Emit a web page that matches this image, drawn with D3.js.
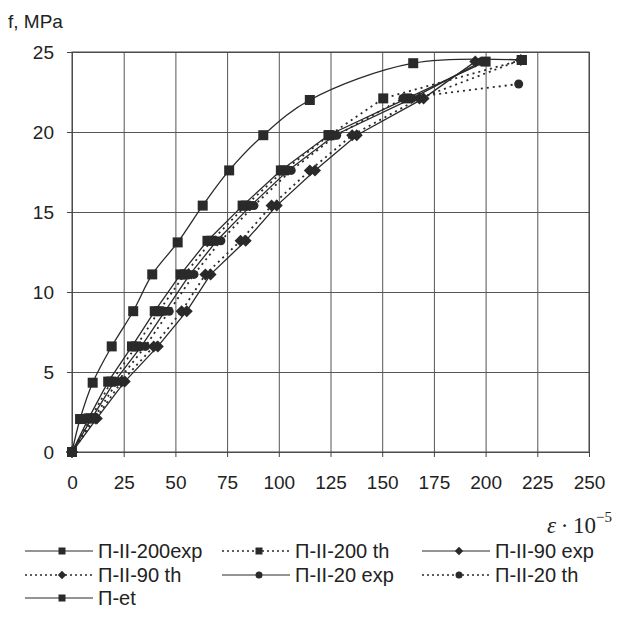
<!DOCTYPE html>
<html><head><meta charset="utf-8">
<script src="https://cdn.jsdelivr.net/npm/d3@7"></script>
<style>
html,body{margin:0;padding:0;background:#fff;}
svg{display:block;font-family:"Liberation Sans",Arial,sans-serif;}
</style></head>
<body>
<svg id="chart" width="619" height="617"></svg>
<script>
// ---- data ----
const xTicks = [0,25,50,75,100,125,150,175,200,225,250];
const yTicks = [0,5,10,15,20,25];

const etX   = [0,3.9,10,19.2,29.6,38.8,51.1,63.2,76,92.5,115,165,217.5];
const etY   = [0,2.06,4.33,6.6,8.8,11.1,13.1,15.4,17.6,19.8,22.0,24.3,24.5];

const e200X  = [0,8,17.5,29,40,52.5,65.5,82.5,101,124,162,200];
const e200Y  = [0,2.1,4.4,6.6,8.8,11.1,13.2,15.4,17.6,19.8,22.1,24.4];
const t200X  = [0,9,19,31,42,54.5,67.5,84,102.5,124.5,150.5,217.5];
const t200Y  = [0,2.1,4.4,6.6,8.8,11.1,13.2,15.4,17.6,19.8,22.1,24.5];
const e90X   = [0,12,25.5,41.5,55.5,67,84,99,117.5,137.7,170,195];
const e90Y   = [0,2.1,4.4,6.6,8.8,11.1,13.2,15.4,17.6,19.8,22.1,24.4];
const t90X   = [0,11.5,24,39.5,53,64.5,81.5,96.5,115,135.5,168,217];
const t90Y   = [0,2.1,4.4,6.6,8.8,11.1,13.2,15.4,17.6,19.8,22.1,24.5];
const e20X   = [0,9.5,20.5,33.5,45,57,70,86.5,104.5,127,164.5,198];
const e20Y   = [0,2.1,4.4,6.6,8.8,11.1,13.2,15.4,17.6,19.8,22.1,24.4];
const t20X   = [0,10.5,22,35.5,47,59,72,88,106,128,160,216];
const t20Y   = [0,2.1,4.4,6.6,8.8,11.1,13.2,15.4,17.6,19.8,22.1,23.0];

const seriesNames = ["П-II-200exp","П-II-200 th","П-II-90 exp","П-II-90 th","П-II-20 exp","П-II-20 th","П-et"];
const seriesX = [e200X,t200X,e90X,t90X,e20X,t20X,etX];
const seriesY = [e200Y,t200Y,e90Y,t90Y,e20Y,t20Y,etY];
const seriesDash = [false,true,false,true,false,true,false];
const seriesMarker = ["square","square","diamond","diamond","circle","circle","square"];

// ---- drawing ----
const svg = d3.select("#chart");
const L=72,R=589,T=52,B=452;
const x = d3.scaleLinear().domain([0,250]).range([L,R]);
const y = d3.scaleLinear().domain([0,25]).range([B,T]);
const ink = "#2a2a2a";

// grid
svg.append("g").attr("transform",`translate(0,${B})`)
  .call(d3.axisBottom(x).tickValues(xTicks).tickSize(-(B-T)).tickFormat(""))
  .call(g=>{g.select(".domain").remove();g.selectAll("line").attr("stroke","#555").attr("stroke-width",1);});
svg.append("g").attr("transform",`translate(${L},0)`)
  .call(d3.axisLeft(y).tickValues(yTicks).tickSize(-(R-L)).tickFormat(""))
  .call(g=>{g.select(".domain").remove();g.selectAll("line").attr("stroke","#555").attr("stroke-width",1);});
svg.append("rect").attr("x",L).attr("y",T).attr("width",R-L).attr("height",B-T)
  .attr("fill","none").attr("stroke","#444").attr("stroke-width",1);

// axes with outer ticks and labels
svg.append("g").attr("transform",`translate(0,${B})`)
  .call(d3.axisBottom(x).tickValues(xTicks).tickSize(5).tickPadding(19))
  .call(g=>{g.select(".domain").remove();g.selectAll("line").attr("stroke","#444");
    g.selectAll("text").attr("font-size",19).attr("fill","#222").attr("font-family","Liberation Sans, Arial, sans-serif");});
svg.append("g").attr("transform",`translate(${L},0)`)
  .call(d3.axisLeft(y).tickValues(yTicks).tickSize(5).tickPadding(13))
  .call(g=>{g.select(".domain").remove();g.selectAll("line").attr("stroke","#444");
    g.selectAll("text").attr("font-size",19).attr("fill","#222").attr("font-family","Liberation Sans, Arial, sans-serif");});

svg.append("text").attr("x",8).attr("y",28).attr("font-size",19).attr("fill","#222").text("f, MPa");

const xl = svg.append("text").attr("x",547).attr("y",533).attr("font-family","Liberation Serif, Times New Roman, serif").attr("font-size",23).attr("fill","#222");
xl.append("tspan").attr("font-style","italic").text("ε");
xl.append("tspan").text("\u2009·\u200910");
xl.append("tspan").attr("font-size",15).attr("dy",-11).text("−5");

function drawMarker(g,type,cx,cy,s){
  if(type==="square") g.append("rect").attr("x",cx-s/2).attr("y",cy-s/2).attr("width",s).attr("height",s).attr("fill",ink);
  else if(type==="diamond") g.append("path").attr("d",`M${cx},${cy-s*0.6}L${cx+s*0.6},${cy}L${cx},${cy+s*0.6}L${cx-s*0.6},${cy}Z`).attr("fill",ink);
  else g.append("circle").attr("cx",cx).attr("cy",cy).attr("r",s/2).attr("fill",ink);
}

const lineCurve = d3.line().x(d=>x(d[0])).y(d=>y(d[1])).curve(d3.curveCatmullRom.alpha(0.5));
const lineStraight = d3.line().x(d=>x(d[0])).y(d=>y(d[1]));
const plot = svg.append("g");
seriesNames.forEach((n,i)=>{
  const pts = seriesX[i].map((v,j)=>[v,seriesY[i][j]]);
  const gen = n==="П-et"?lineCurve:lineStraight;
  plot.append("path").attr("d",gen(pts)).attr("fill","none").attr("stroke",ink)
    .attr("stroke-width",seriesDash[i]?1.8:1.3)
    .attr("stroke-dasharray",seriesDash[i]?"2,4":null);
  const mg = plot.append("g");
  const size = seriesMarker[i]==="square"?10:(seriesMarker[i]==="diamond"?10:9);
  pts.forEach(p=>drawMarker(mg,seriesMarker[i],x(p[0]),y(p[1]),size));
});

// legend
const legPos = [[25,551],[222,551],[422,551],[25,575],[222,575],[422,575],[25,598]];
seriesNames.forEach((n,i)=>{
  const [lx,ly] = legPos[i];
  const g = svg.append("g");
  g.append("line").attr("x1",lx).attr("x2",lx+68).attr("y1",ly).attr("y2",ly)
    .attr("stroke",ink).attr("stroke-width",seriesDash[i]?1.5:1.2).attr("stroke-dasharray",seriesDash[i]?"2,3":null);
  drawMarker(g,seriesMarker[i],lx+37,ly,7);
  g.append("text").attr("x",lx+73).attr("y",ly+7).attr("font-size",20).attr("fill","#222").text(n);
});
</script>
</body></html>
